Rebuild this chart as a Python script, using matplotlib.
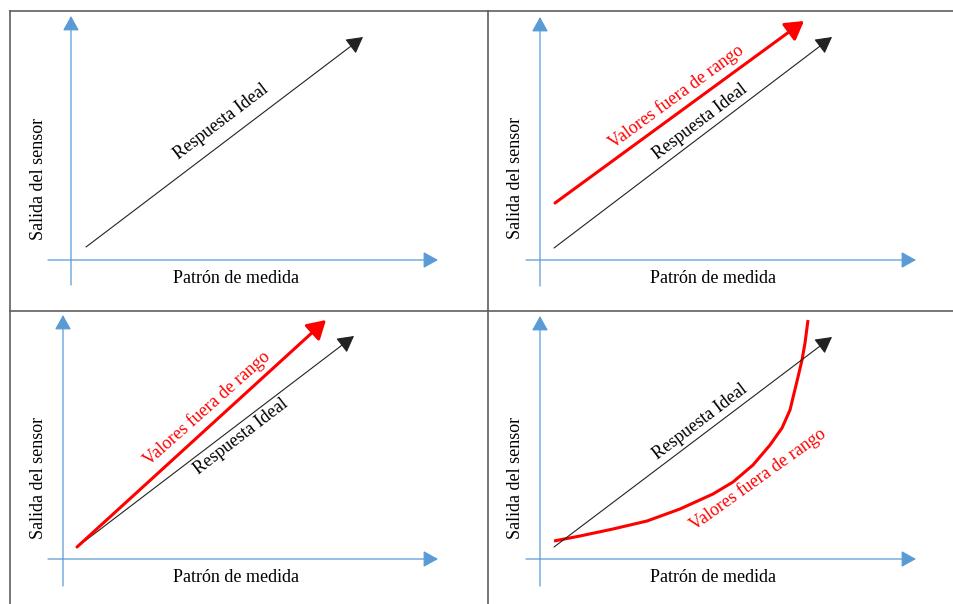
import matplotlib.pyplot as plt

plt.rcParams["font.family"] = ["Liberation Serif", "DejaVu Serif"]

# diagram coordinates (image pixels, y grows downward)
x_label = "Patrón de medida"
y_label = "Salida del sensor"
ideal_label = "Respuesta Ideal"
red_label = "Valores fuera de rango"

# blue axes of each panel
yaxis_x = [71, 540, 63, 540]
xaxis_y = [260, 260, 559, 559]
xaxis_x0 = [48, 526, 48, 526]
xaxis_x1 = [438, 916, 438, 916]
yaxis_y0 = [285, 286, 586, 586]
yaxis_y1 = [16, 17, 315, 316]

# black "ideal" arrows
ideal_x0 = [86, 554, 77, 554]
ideal_y0 = [247, 248, 547, 547]
ideal_x1 = [363, 832, 354, 832]
ideal_y1 = [37, 37, 336, 337]

# red straight arrows (panels 2 and 3)
red_x0 = [555, 77]
red_y0 = [203, 547]
red_x1 = [804, 326]
red_y1 = [21, 320]

# red curve (panel 4)
curve_x = [554, 580, 613, 647, 680, 713, 733, 753, 770, 782, 790, 798, 802, 805, 808]
curve_y = [541, 536, 529, 521, 509, 494, 482, 465, 445, 428, 410, 377, 360, 343, 320]

# label positions
ideal_tx = [221, 700, 241, 700]
ideal_ty = [122, 122, 437, 422]
ideal_rot = [37.2, 37.2, 37.5, 37.2]
red_tx = [676, 207, 758]
red_ty = [97, 408, 479]
red_rot = [36.3, 41.6, 35.6]
ylab_x = [39, 516, 39, 516]
ylab_y = [179, 178, 478, 478]
xlab_x = [236, 713, 236, 713]
xlab_y = [283, 283, 582, 582]

BLUE = "#5B9BD5"
RED = "#FF0000"
GRID = "#5f5f5f"

fig = plt.figure(figsize=(9.54, 6.04), dpi=100)
ax = fig.add_axes([0, 0, 1, 1])
ax.set_xlim(0, 954)
ax.set_ylim(604, 0)
ax.axis("off")

# table borders
ax.plot([10, 954], [11, 11], color=GRID, lw=1.2)
ax.plot([10, 954], [310.5, 310.5], color=GRID, lw=1.2)
ax.plot([10.5, 10.5], [11, 604], color=GRID, lw=1.2)
ax.plot([488, 488], [11, 604], color=GRID, lw=1.2)


def arrow(x0, y0, x1, y1, color, lw, hl, hw, scale=10):
    ax.annotate("", xy=(x1, y1), xytext=(x0, y0),
                arrowprops=dict(arrowstyle="-|>,head_length=%g,head_width=%g" % (hl, hw),
                                color=color, lw=lw, shrinkA=0, shrinkB=0,
                                mutation_scale=scale))


for i in range(4):
    # axes
    arrow(xaxis_x0[i], xaxis_y[i], xaxis_x1[i], xaxis_y[i], BLUE, 0.9, 0.9, 0.5)
    arrow(yaxis_x[i], yaxis_y0[i], yaxis_x[i], yaxis_y1[i], BLUE, 0.9, 0.9, 0.5)
    # ideal response
    arrow(ideal_x0[i], ideal_y0[i], ideal_x1[i], ideal_y1[i], "#222222", 0.8, 1.0, 0.55)
    ax.text(ideal_tx[i], ideal_ty[i], ideal_label, fontsize=13, rotation=ideal_rot[i],
            rotation_mode="anchor", ha="center", va="center", color="black")
    ax.text(ylab_x[i], ylab_y[i], y_label, fontsize=13, rotation=90,
            ha="center", va="center")
    ax.text(xlab_x[i], xlab_y[i], x_label, fontsize=13, ha="center", va="baseline")

for i in range(2):
    arrow(red_x0[i], red_y0[i], red_x1[i], red_y1[i], RED, 2.2, 1.1, 0.65)

ax.plot(curve_x, curve_y, color=RED, lw=2.2, solid_capstyle="butt", solid_joinstyle="round")

for i in range(3):
    ax.text(red_tx[i], red_ty[i], red_label, fontsize=13, rotation=red_rot[i],
            rotation_mode="anchor", ha="center", va="center", color=RED)

fig.savefig("out.png", dpi=100)
